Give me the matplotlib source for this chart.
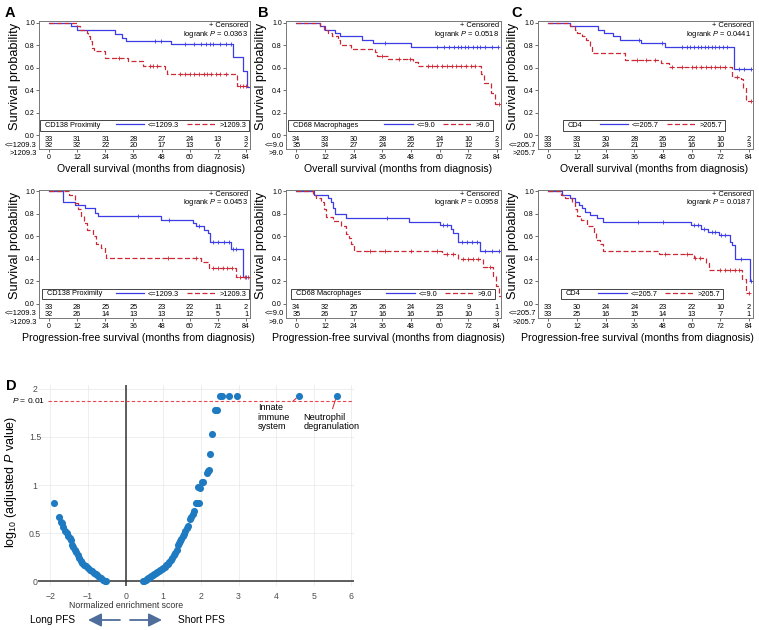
import matplotlib
matplotlib.use('Agg')
import matplotlib.pyplot as plt
import matplotlib.transforms as mtransforms
from matplotlib.lines import Line2D
from matplotlib.patches import Rectangle
from matplotlib.ticker import FormatStrFormatter
import numpy as np

plt.rcParams['font.family'] = ['Liberation Sans', 'DejaVu Sans']
plt.rcParams['mathtext.fontset'] = 'custom'
plt.rcParams['mathtext.rm'] = 'Liberation Sans'
plt.rcParams['mathtext.it'] = 'Liberation Sans:italic'

W, H = 759, 630
BLUE = '#3c3ce6'
RED = '#cc2936'

months = [0, 12, 24, 36, 48, 60, 72, 84]

# --- overall survival, CD138 proximity
os138_lo_t = [9.5, 11.7, 28, 31, 33, 52, 78.6, 82.9, 84.3]
os138_lo_s = [0.97, 0.935, 0.90, 0.87, 0.84, 0.81, 0.70, 0.57, 0.43]
os138_lo_c = [45, 47.7, 58, 62, 65, 67, 68.5, 70, 73, 75.5, 77.5, 85.5]
os138_hi_t = [11.7, 13.0, 16.2, 16.8, 17.4, 18.3, 19.3, 23.8, 33.7, 40.0, 49.4, 50.5, 80.0]
os138_hi_s = [0.97, 0.94, 0.91, 0.88, 0.84, 0.78, 0.75, 0.69, 0.66, 0.62, 0.59, 0.55, 0.44]
os138_hi_c = [30, 43, 44.5, 46, 56, 58, 60, 62, 64, 66, 67.5, 69, 71, 73, 75.5, 81.5, 82.8, 84.2]
os138_risk_lo = [33, 31, 31, 28, 27, 24, 13, 3]
os138_risk_hi = [32, 32, 22, 20, 17, 13, 6, 2]

# --- overall survival, CD68 macrophages
os68_lo_t = [10, 12, 16.3, 18.3, 27.4, 32.2, 48]
os68_lo_s = [0.97, 0.94, 0.91, 0.88, 0.85, 0.82, 0.79]
os68_lo_c = [37, 59, 62, 64, 66, 67.5, 69, 70.5, 72, 74, 75.5, 77, 79, 82, 84.5]
os68_hi_t = [10, 11.4, 13.2, 14.8, 17.5, 18.3, 23, 33, 34, 38.5, 49, 51, 77.4, 78.5, 81.5, 83.2]
os68_hi_s = [0.97, 0.94, 0.91, 0.88, 0.85, 0.80, 0.77, 0.74, 0.71, 0.68, 0.65, 0.62, 0.55, 0.47, 0.38, 0.28]
os68_hi_c = [36, 43, 47.5, 55, 57, 59, 61, 63, 65, 67, 69, 71, 73, 75, 85]
os68_risk_lo = [34, 33, 30, 28, 26, 24, 10, 2]
os68_risk_hi = [35, 34, 27, 24, 22, 17, 12, 3]

# --- overall survival, CD4
os4_lo_t = [9, 20.7, 23.5, 27, 30, 38.7, 49, 77.8]
os4_lo_s = [0.97, 0.94, 0.91, 0.88, 0.85, 0.82, 0.79, 0.59]
os4_lo_c = [38, 47.7, 56, 58, 59.5, 61, 62.5, 64, 65.5, 67, 68.5, 70, 71.5, 73, 75, 80, 82, 85]
os4_hi_t = [9, 11, 12, 14, 16, 17.3, 18.4, 32, 47, 50.7, 77, 80.8, 81.6, 82.9]
os4_hi_s = [0.97, 0.94, 0.91, 0.88, 0.85, 0.79, 0.73, 0.67, 0.64, 0.61, 0.52, 0.50, 0.42, 0.31]
os4_hi_c = [37, 41, 44.5, 52, 56, 60, 62, 64, 66, 68, 70, 72, 74, 79, 85]
os4_risk_lo = [33, 33, 30, 28, 26, 22, 10, 2]
os4_risk_hi = [33, 31, 24, 21, 19, 16, 10, 3]

# --- progression-free survival, CD138 proximity
pfs138_lo_t = [6, 11, 15.2, 19.4, 20.9, 47.8, 61.3, 62.5, 66.2, 67.7, 68.7, 77.6, 82.6, 85.7]
pfs138_lo_s = [0.91, 0.88, 0.85, 0.81, 0.78, 0.75, 0.72, 0.69, 0.66, 0.63, 0.55, 0.49, 0.24, 0.12]
pfs138_lo_c = [37.9, 51.3, 64, 69.8, 72, 74.5, 76.8, 78.3, 79.7, 84, 86]
pfs138_hi_t = [8.5, 11, 12.3, 13.8, 15, 16.2, 18.7, 20, 22.3, 23.7, 24.4, 64.8, 68, 79.7]
pfs138_hi_s = [0.97, 0.90, 0.84, 0.78, 0.72, 0.66, 0.60, 0.53, 0.50, 0.44, 0.41, 0.37, 0.32, 0.24]
pfs138_hi_c = [50.7, 62.7, 70, 72, 74, 76, 78, 81.5, 83.5, 85]
pfs138_risk_lo = [33, 28, 25, 25, 23, 22, 11, 2]
pfs138_risk_hi = [32, 26, 14, 13, 13, 12, 5, 1]

# --- progression-free survival, CD68 macrophages
pfs68_lo_t = [7.6, 13.1, 14.5, 15.2, 16.3, 20.7, 47.2, 60, 64.6, 65.6, 67.7, 76.7]
pfs68_lo_s = [0.97, 0.94, 0.91, 0.85, 0.80, 0.76, 0.73, 0.70, 0.67, 0.63, 0.55, 0.47]
pfs68_lo_c = [38, 61.5, 63, 69.5, 71.5, 73.5, 75.5, 79, 82, 85]
pfs68_hi_t = [6.9, 8.3, 10.4, 11.7, 12.4, 15.2, 18.6, 20.7, 22, 22.8, 24.2, 60.8, 67.7, 78, 82.2, 83.6, 85]
pfs68_hi_s = [0.97, 0.94, 0.91, 0.84, 0.77, 0.74, 0.69, 0.62, 0.59, 0.53, 0.47, 0.44, 0.40, 0.33, 0.25, 0.16, 0.07]
pfs68_hi_c = [31, 37, 48, 59, 63, 65.5, 70, 72, 74, 76, 81, 86]
pfs68_risk_lo = [34, 32, 26, 26, 24, 23, 9, 1]
pfs68_risk_hi = [35, 26, 17, 16, 16, 15, 10, 3]

# --- progression-free survival, CD4
pfs4_lo_t = [5.8, 9.3, 11, 12.7, 14.1, 15.5, 17.6, 20.3, 23.1, 59.8, 63.9, 67, 71.5, 76, 76.8, 78.2, 84.6]
pfs4_lo_s = [0.97, 0.94, 0.91, 0.88, 0.85, 0.82, 0.79, 0.76, 0.73, 0.70, 0.67, 0.64, 0.61, 0.55, 0.52, 0.40, 0.20]
pfs4_lo_c = [37.6, 48, 61, 62.5, 65, 68.5, 70, 72.5, 74, 80.5, 85]
pfs4_hi_t = [5.4, 7.2, 10, 11.3, 12, 13.7, 16.2, 19.2, 20, 21.7, 23.1, 46.3, 61.1, 66, 67.4, 81.2, 82.6]
pfs4_hi_s = [0.97, 0.94, 0.91, 0.84, 0.78, 0.75, 0.69, 0.63, 0.57, 0.53, 0.47, 0.44, 0.41, 0.36, 0.30, 0.22, 0.10]
pfs4_hi_c = [49, 58, 61.5, 63.5, 72, 74, 76, 78, 80, 84]
pfs4_risk_lo = [33, 30, 24, 24, 23, 22, 10, 2]
pfs4_risk_hi = [33, 25, 16, 15, 14, 13, 7, 1]

# --- panel D: GSEA volcano
nes_long = [-1.90, -1.77, -1.73, -1.70, -1.66, -1.61, -1.57, -1.53, -1.49, -1.46, -1.43,
            -1.39, -1.35, -1.32, -1.28, -1.24, -1.20, -1.15, -1.10, -1.05, -1.00, -0.95,
            -0.90, -0.85, -0.80, -0.75, -0.70, -0.65, -0.60, -0.55, -0.52]
logp_long = [0.81, 0.67, 0.62, 0.60, 0.56, 0.52, 0.50, 0.47, 0.45, 0.43, 0.38,
             0.36, 0.32, 0.30, 0.27, 0.24, 0.21, 0.19, 0.17, 0.155, 0.14, 0.12,
             0.105, 0.09, 0.075, 0.06, 0.045, 0.03, 0.015, 0.005, 0.0]
nes_short = [0.47, 0.50, 0.53, 0.57, 0.60, 0.64, 0.68, 0.72, 0.76, 0.80, 0.84, 0.88, 0.92,
             0.96, 1.00, 1.04, 1.08, 1.12, 1.16, 1.20, 1.24, 1.28, 1.32, 1.36, 1.40, 1.42,
             1.45, 1.48, 1.52, 1.55, 1.59, 1.63, 1.67, 1.72, 1.75, 1.78, 1.83, 1.86, 1.90,
             1.94, 1.93, 1.97, 2.02, 2.06, 2.15, 2.19, 2.21, 2.23, 2.29, 2.38, 2.42, 2.51,
             2.57, 2.76, 2.96, 4.61, 5.61]
logp_short = [0.0, 0.005, 0.01, 0.02, 0.035, 0.045, 0.055, 0.065, 0.075, 0.085, 0.095, 0.105,
              0.115, 0.125, 0.14, 0.15, 0.165, 0.18, 0.20, 0.22, 0.245, 0.27, 0.29, 0.32,
              0.38, 0.40, 0.42, 0.44, 0.47, 0.49, 0.52, 0.55, 0.57, 0.65, 0.67, 0.70, 0.73,
              0.81, 0.81, 0.81, 0.98, 0.97, 1.03, 1.03, 1.13, 1.15, 1.16, 1.32, 1.53, 1.78,
              1.78, 1.93, 1.93, 1.93, 1.93, 1.93, 1.93]
p_cut = 1.875

fig = plt.figure(figsize=(W / 100, H / 100), dpi=100)


def px_axes(left, top, right, bottom):
    return fig.add_axes([left / W, 1 - bottom / H, (right - left) / W, (bottom - top) / H])


def km_curve(ax, t, s, cens, color, dashes):
    t = np.asarray(t, float)
    s = np.asarray(s, float)
    end = max(t[-1], max(cens))
    tt = np.r_[0, t, end]
    ss = np.r_[1.0, s, s[-1]]
    kw = dict(color=color, lw=0.9)
    if dashes:
        kw['dashes'] = dashes
    ax.step(tt, ss, where='post', **kw)
    idx = np.searchsorted(t, cens, side='right')
    cy = np.r_[1.0, s][idx]
    ax.plot(cens, cy, '+', color=color, ms=3, mew=0.6, ls='none')


def km_panel(rect, curves, risk_lo, risk_hi, title, lo_lab, hi_lab, pval, leg_x, xlabel, xlab_x):
    ax = px_axes(*rect)
    lo_t, lo_s, lo_c, hi_t, hi_s, hi_c = curves
    km_curve(ax, lo_t, lo_s, lo_c, BLUE, None)
    km_curve(ax, hi_t, hi_s, hi_c, RED, (4, 2))
    ax.set_xlim(-4.3, 85.7)
    ax.set_ylim(-0.12, 1.017)
    ax.set_yticks([0, 0.2, 0.4, 0.6, 0.8, 1.0])
    ax.yaxis.set_major_formatter(FormatStrFormatter('%.1f'))
    ax.set_xticks(months)
    ax.tick_params(length=2.2, width=0.6, labelsize=5, color='#555555')
    ax.tick_params(axis='y', pad=0.8)
    ax.tick_params(axis='x', pad=1.6)
    for sp in ax.spines.values():
        sp.set_color('#777777')
        sp.set_linewidth(0.7)
    ax.set_ylabel('Survival probability', fontsize=9.2)
    ax.yaxis.set_label_coords(-0.087, 0.565)
    ax.set_xlabel(xlabel, fontsize=7.6, va='top')
    ax.xaxis.set_label_coords(xlab_x, -0.118)

    for m, a, b in zip(months, risk_lo, risk_hi):
        ax.text(m, -0.032, str(a), ha='center', va='center', fontsize=5.3)
        ax.text(m, -0.091, str(b), ha='center', va='center', fontsize=5.3)
    tr = mtransforms.blended_transform_factory(ax.transAxes, ax.transData)
    ax.text(-0.011, -0.088, '<=' + lo_lab, transform=tr, ha='right', va='center', fontsize=5.4)
    ax.text(-0.011, -0.16, '>' + hi_lab, transform=tr, ha='right', va='center', fontsize=5.4)

    ax.text(0.99, 0.961, '+ Censored', transform=ax.transAxes, ha='right', va='center', fontsize=5.4)
    ax.text(0.99, 0.896, r'logrank $\it{P}$ = ' + pval, transform=ax.transAxes,
            ha='right', va='center', fontsize=5.4)

    x0, x1 = leg_x
    y0, h = 0.143, 0.082
    ax.add_patch(Rectangle((x0, y0), x1 - x0, h, transform=ax.transAxes, fc='white',
                           ec='#444444', lw=0.7, zorder=5))
    ax.text(x0 + 0.024, y0 + h / 2, title, transform=ax.transAxes, va='center', ha='left',
            fontsize=5.3, zorder=6)
    handles = [Line2D([], [], color=BLUE, lw=0.9),
               Line2D([], [], color=RED, lw=0.9, dashes=(4, 2))]
    leg = ax.legend(handles, ['<=' + lo_lab, '>' + hi_lab], ncol=2, loc='center right',
                    bbox_to_anchor=(x1 - 0.012, y0 + h / 2), bbox_transform=ax.transAxes,
                    frameon=False, fontsize=5.3, handlelength=3.9, handletextpad=0.5,
                    columnspacing=1.1, borderpad=0, borderaxespad=0)
    leg.set_zorder(6)
    return ax


OS = 'Overall survival (months from diagnosis)'
PFS = 'Progression-free survival (months from diagnosis)'

km_panel((39, 21, 250, 149),
         (os138_lo_t, os138_lo_s, os138_lo_c, os138_hi_t, os138_hi_s, os138_hi_c),
         os138_risk_lo, os138_risk_hi, 'CD138 Proximity', '1209.3', '1209.3', '0.0363',
         (0.005, 0.995), OS, 0.533)
km_panel((286, 21, 501, 149),
         (os68_lo_t, os68_lo_s, os68_lo_c, os68_hi_t, os68_hi_s, os68_hi_c),
         os68_risk_lo, os68_risk_hi, 'CD68 Macrophages', '9.0', '9.0', '0.0518',
         (0.008, 0.962), OS, 0.52)
km_panel((538, 21, 753, 149),
         (os4_lo_t, os4_lo_s, os4_lo_c, os4_hi_t, os4_hi_s, os4_hi_c),
         os4_risk_lo, os4_risk_hi, 'CD4', '205.7', '205.7', '0.0441',
         (0.114, 0.868), OS, 0.54)
km_panel((39, 189.5, 250, 317.5),
         (pfs138_lo_t, pfs138_lo_s, pfs138_lo_c, pfs138_hi_t, pfs138_hi_s, pfs138_hi_c),
         pfs138_risk_lo, pfs138_risk_hi, 'CD138 Proximity', '1209.3', '1209.3', '0.0453',
         (0.013, 0.995), PFS, 0.472)
km_panel((286, 189.5, 501, 317.5),
         (pfs68_lo_t, pfs68_lo_s, pfs68_lo_c, pfs68_hi_t, pfs68_hi_s, pfs68_hi_c),
         pfs68_risk_lo, pfs68_risk_hi, 'CD68 Macrophages', '9.0', '9.0', '0.0958',
         (0.023, 0.97), PFS, 0.477)
km_panel((538, 189.5, 753, 317.5),
         (pfs4_lo_t, pfs4_lo_s, pfs4_lo_c, pfs4_hi_t, pfs4_hi_s, pfs4_hi_c),
         pfs4_risk_lo, pfs4_risk_hi, 'CD4', '205.7', '205.7', '0.0187',
         (0.106, 0.86), PFS, 0.463)

for letter, x, y in [('A', 5, 13), ('B', 258, 13), ('C', 511, 13), ('D', 6, 386)]:
    fig.text(x / W, 1 - y / H, letter, fontsize=10.5, fontweight='bold', va='center', ha='left')

# ---- panel D
axd = px_axes(38, 385, 354, 586)
axd.set_xlim(-2.33, 6.07)
axd.set_ylim(-0.05, 2.04)
axd.grid(color='#ebebeb', lw=0.6)
axd.set_axisbelow(True)
for sp in axd.spines.values():
    sp.set_visible(False)
axd.set_xticks(range(-2, 7))
axd.set_yticks([0, 0.5, 1, 1.5, 2])
axd.set_yticklabels(['0', '0.5', '1', '1.5', '2'])
axd.tick_params(length=0, labelsize=6.3, labelcolor='#4d4d4d')
axd.tick_params(axis='x', pad=4)
axd.tick_params(axis='y', pad=2.2)
for lab in axd.get_yticklabels():
    lab.set_ha('center')
axd.axhline(0, color='#333333', lw=1.1, zorder=1)
axd.axvline(0, color='#333333', lw=1.1, zorder=1)
axd.axhline(p_cut, xmin=0.032, color='#e8464e', lw=0.8, dashes=(3, 2), zorder=1)
axd.scatter(nes_long, logp_long, s=26, color='#1f7bc1', lw=0, zorder=3)
axd.scatter(nes_short, logp_short, s=26, color='#1f7bc1', lw=0, zorder=3)
axd.text(-2.13, p_cut, r'$\it{P}$ = 0.01', ha='right', va='center', fontsize=6)
axd.set_ylabel(r'log$_{10}$ (adjusted $\it{P}$ value)', fontsize=9)
axd.yaxis.set_label_coords(-0.06, 0.52)
trd = mtransforms.blended_transform_factory(axd.transData, axd.transAxes)
axd.text(0, -0.095, 'Normalized enrichment score', transform=trd, ha='center', va='center',
         fontsize=6.3, color='#333333')

axd.annotate('Innate\nimmune\nsystem', xy=(nes_short[-2], logp_short[-2]), xytext=(3.51, 1.85),
             ha='left', va='top', fontsize=6.5, linespacing=1.05,
             arrowprops=dict(arrowstyle='-', color='#d9343f', lw=0.8, shrinkA=0, shrinkB=3,
                             relpos=(0.95, 0.92)))
axd.annotate('Neutrophil\ndegranulation', xy=(nes_short[-1], logp_short[-1]), xytext=(4.72, 1.75),
             ha='left', va='top', fontsize=6.6, linespacing=1.05,
             arrowprops=dict(arrowstyle='-', color='#d9343f', lw=0.8, shrinkA=1, shrinkB=3,
                             relpos=(0.5, 1.0)))

# PFS arrows
arrow_col = '#4f6d9a'
fig.text(53 / W, 1 - 620 / H, 'Long PFS', ha='center', va='center', fontsize=7.3)
fig.text(201 / W, 1 - 620 / H, 'Short PFS', ha='center', va='center', fontsize=7.3)
for xa, xb in [(120, 88), (130, 162)]:
    fig.add_artist(matplotlib.patches.FancyArrowPatch(
        (xa / W, 1 - 620 / H), (xb / W, 1 - 620 / H), transform=fig.transFigure,
        arrowstyle='-|>,head_length=8,head_width=4', color=arrow_col, lw=1.3,
        mutation_scale=1, shrinkA=0, shrinkB=0))

fig.savefig('out.png', dpi=100)
